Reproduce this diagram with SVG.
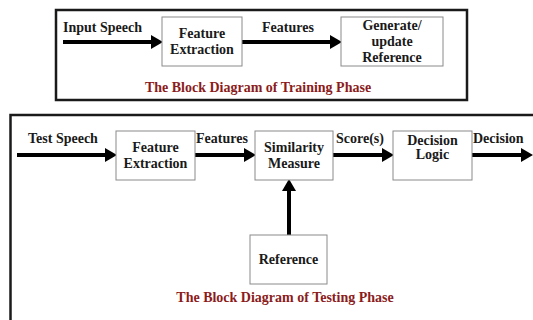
<svg xmlns="http://www.w3.org/2000/svg" width="533" height="320" viewBox="0 0 533 320">
<defs>
<style>
.frame{fill:none;stroke:#1a1a1a;stroke-width:2.5}
.box{fill:#fff;stroke:#8a8a8a;stroke-width:1}
.t{font-family:"Liberation Serif","Times New Roman",serif;font-weight:bold;font-size:14px;fill:#1a1a1a}
.c{text-anchor:middle}
.title{font-family:"Liberation Serif","Times New Roman",serif;font-weight:bold;font-size:14px;fill:#8b1c1c;text-anchor:middle}
.arr{stroke:#000;stroke-width:4;fill:none;marker-end:url(#ah)}
</style>
<marker id="ah" markerWidth="3" markerHeight="3.5" refX="1" refY="1.75" orient="auto" markerUnits="strokeWidth" viewBox="0 0 3 3.5">
<path d="M0,0 L3,1.75 L0,3.5 Z" fill="#000"/>
</marker>
</defs>
<rect width="533" height="320" fill="#fff"/>
<rect class="frame" x="56" y="10" width="411" height="90"/>
<rect class="frame" x="10.5" y="115" width="530" height="215"/>
<g id="connectors">
<line class="arr" x1="63" y1="42" x2="155" y2="42"/>
<line class="arr" x1="242" y1="42" x2="334" y2="42"/>
<line class="arr" x1="17" y1="155" x2="109" y2="155"/>
<line class="arr" x1="195" y1="155" x2="248" y2="155"/>
<line class="arr" x1="333" y1="155" x2="386" y2="155"/>
<line class="arr" x1="472" y1="155" x2="525" y2="155"/>
<line class="arr" x1="289" y1="235" x2="289" y2="187"/>
</g>
<g id="labels">
<text class="t" x="63" y="32">Input Speech</text>
<text class="t" x="262" y="32">Features</text>
<text class="t" x="28" y="143">Test Speech</text>
<text class="t" x="196" y="143">Features</text>
<text class="t" x="336" y="143">Score(s)</text>
<text class="t" x="473" y="143">Decision</text>
</g>
<g id="train-fe">
<rect class="box" x="162" y="17" width="80" height="49"/>
<text class="t c" x="202" y="38">Feature</text>
<text class="t c" x="202" y="54">Extraction</text>
</g>
<g id="train-gen">
<rect class="box" x="341" y="17" width="102" height="49"/>
<text class="t c" x="392" y="30">Generate/</text>
<text class="t c" x="392" y="46">update</text>
<text class="t c" x="392" y="62">Reference</text>
</g>
<g id="test-fe">
<rect class="box" x="116" y="131" width="79" height="49"/>
<text class="t c" x="155.5" y="152">Feature</text>
<text class="t c" x="155.5" y="168">Extraction</text>
</g>
<g id="similarity">
<rect class="box" x="255" y="131" width="78" height="49"/>
<text class="t c" x="294" y="152">Similarity</text>
<text class="t c" x="294" y="168">Measure</text>
</g>
<g id="decision">
<rect class="box" x="393" y="131" width="79" height="49"/>
<text class="t c" x="432.5" y="145">Decision</text>
<text class="t c" x="432.5" y="159">Logic</text>
</g>
<g id="reference">
<rect class="box" x="250" y="235" width="77" height="49"/>
<text class="t c" x="288.5" y="264">Reference</text>
</g>
<g id="titles">
<text class="title" x="258" y="92">The Block Diagram of Training Phase</text>
<text class="title" x="285" y="302">The Block Diagram of Testing Phase</text>
</g>
</svg>
